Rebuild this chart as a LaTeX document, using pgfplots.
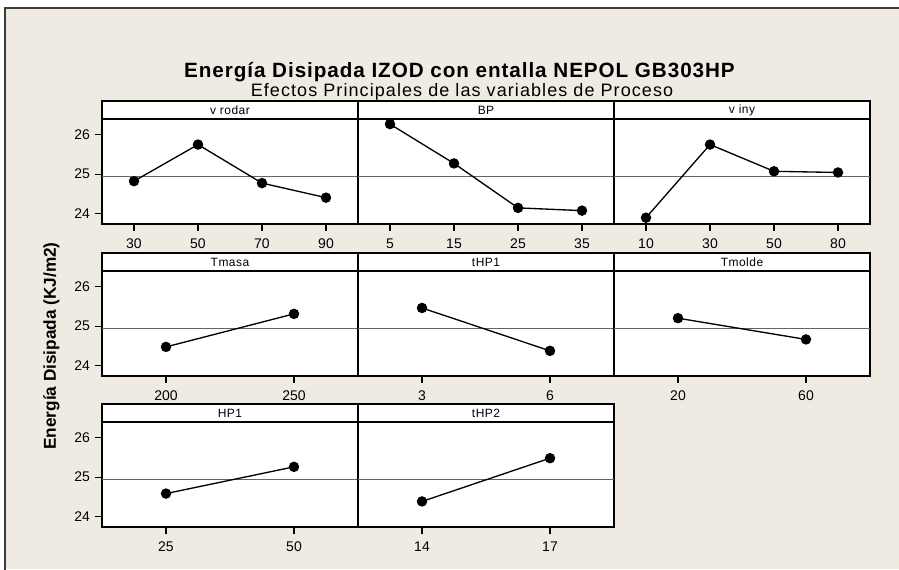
\documentclass[border=0pt]{standalone}
\usepackage{fontspec}
\setmainfont{Liberation Sans}
\newfontfamily\stripfont[LetterSpace=4]{Liberation Sans}
\newfontfamily\titlefont[LetterSpace=4.5]{Liberation Sans}
\newfontfamily\subfont[LetterSpace=6]{Liberation Sans}
\usepackage{pgfplots}
\pgfplotsset{compat=1.18}

\definecolor{bgbeige}{RGB}{239,235,226}
\definecolor{framegray}{RGB}{60,60,60}
\definecolor{refgray}{RGB}{100,100,100}

% one Minitab-like panel; #1 = strip label
\pgfplotsset{
  mepanel/.style={
    scale only axis, width=192pt, height=78.75pt,
    ymin=23.73, ymax=26.40,
    axis background/.style={fill=white},
    axis line style={line width=0.9pt},
    tick style={black, line width=0.8pt},
    tick align=outside, major tick length=5.5pt,
    xtick pos=left, ytick pos=left,
    ytick=\empty,
    ticklabel style={font=\fontsize{10.5}{12}\selectfont},
    xticklabel style={yshift=-2pt},
    clip=false,
    after end axis/.append code={
      \draw[line width=0.9pt, fill=white] (rel axis cs:0,1) rectangle ([yshift=13.5pt]rel axis cs:1,1);
      \node[font=\stripfont\fontsize{9}{10}\selectfont, inner sep=0pt]
        at ([yshift=6.75pt]rel axis cs:0.5,1) {#1};
    },
  },
  four/.style={xmin=-0.5, xmax=3.5, xtick={0,1,2,3}},
  two/.style={xmin=-0.5, xmax=1.5, xtick={0,1}},
  yleft/.style={ytick={24,25,26}, yticklabels={24,25,26}},
  eff/.style={black, line width=1pt, mark=*, mark size=3.4pt},
  ref/.style={refgray, line width=0.8pt, mark=none, forget plot},
}

\begin{document}
\begin{tikzpicture}
\path[use as bounding box] (0,0) rectangle (674.25pt,426.75pt);
\fill[white] (0,0) rectangle (674.25pt,426.75pt);
\fill[bgbeige] (3.75pt,0) rectangle (674.25pt,420.75pt);
\draw[framegray, line width=1.6pt] (3.75pt,-2pt) -- (3.75pt,420.75pt) -- (680pt,420.75pt);

\node[anchor=base, font=\titlefont\bfseries\fontsize{15.5}{18}\selectfont] at (344.6pt,368.25pt)
  {Energía Disipada IZOD con entalla NEPOL GB303HP};
\node[anchor=base, font=\subfont\fontsize{13.5}{16}\selectfont] at (346.5pt,354pt)
  {Efectos Principales de las variables de Proceso};
\node[rotate=90, font=\bfseries\fontsize{12.9}{15}\selectfont] at (38.5pt,167.25pt)
  {Energía Disipada (KJ/m2)};

% row 1
\begin{axis}[mepanel={v rodar}, four, yleft, at={(76.5pt,258.75pt)}, xticklabels={30,50,70,90}]
\addplot[ref] coordinates {(-0.5,24.94) (3.5,24.94)};
\addplot[eff] coordinates {(0,24.82) (1,25.75) (2,24.77) (3,24.40)};
\end{axis}
\begin{axis}[mepanel={BP}, four, at={(268.5pt,258.75pt)}, xticklabels={5,15,25,35}]
\addplot[ref] coordinates {(-0.5,24.94) (3.5,24.94)};
\addplot[eff] coordinates {(0,26.27) (1,25.27) (2,24.14) (3,24.07)};
\end{axis}
\begin{axis}[mepanel={v iny}, four, at={(460.5pt,258.75pt)}, xticklabels={10,30,50,80}]
\addplot[ref] coordinates {(-0.5,24.94) (3.5,24.94)};
\addplot[eff] coordinates {(0,23.89) (1,25.75) (2,25.07) (3,25.04)};
\end{axis}

% row 2
\begin{axis}[mepanel={Tmasa}, two, yleft, at={(76.5pt,144.75pt)}, xticklabels={200,250}]
\addplot[ref] coordinates {(-0.5,24.94) (1.5,24.94)};
\addplot[eff] coordinates {(0,24.47) (1,25.31)};
\end{axis}
\begin{axis}[mepanel={tHP1}, two, at={(268.5pt,144.75pt)}, xticklabels={3,6}]
\addplot[ref] coordinates {(-0.5,24.94) (1.5,24.94)};
\addplot[eff] coordinates {(0,25.46) (1,24.37)};
\end{axis}
\begin{axis}[mepanel={Tmolde}, two, at={(460.5pt,144.75pt)}, xticklabels={20,60}]
\addplot[ref] coordinates {(-0.5,24.94) (1.5,24.94)};
\addplot[eff] coordinates {(0,25.20) (1,24.66)};
\end{axis}

% row 3
\begin{axis}[mepanel={HP1}, two, yleft, at={(76.5pt,31.5pt)}, xticklabels={25,50}]
\addplot[ref] coordinates {(-0.5,24.94) (1.5,24.94)};
\addplot[eff] coordinates {(0,24.58) (1,25.26)};
\end{axis}
\begin{axis}[mepanel={tHP2}, two, at={(268.5pt,31.5pt)}, xticklabels={14,17}]
\addplot[ref] coordinates {(-0.5,24.94) (1.5,24.94)};
\addplot[eff] coordinates {(0,24.38) (1,25.48)};
\end{axis}
\end{tikzpicture}
\end{document}
